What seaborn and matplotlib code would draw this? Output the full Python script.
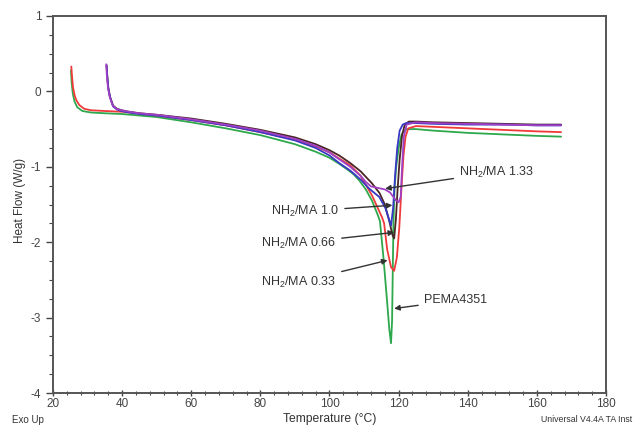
import matplotlib
matplotlib.use("Agg")
import matplotlib.pyplot as plt
import numpy as np
import pandas as pd
import seaborn as sns

# DSC traces (temperature in C, heat flow in W/g)
t_pema = [25.2, 25.4, 25.7, 26.2, 27.0, 28.5, 31, 35, 40, 50, 60, 70, 80, 90, 96, 100,
          102.8, 105, 107, 108.6, 110.5, 112.3, 113.8, 114.6, 115.6, 116.6, 117.3, 117.8,
          118.1, 118.3, 118.5, 118.8, 119.3, 120.0, 120.8, 121.6, 122.5, 125, 130, 140,
          150, 160, 167]
hf_pema = [0.28, 0.12, -0.02, -0.13, -0.21, -0.26, -0.28, -0.29, -0.30, -0.34, -0.41,
           -0.49, -0.58, -0.70, -0.80, -0.88, -0.96, -1.03, -1.10, -1.18, -1.30, -1.45,
           -1.62, -1.72, -2.2, -2.75, -3.15, -3.34, -3.05, -2.4, -1.75, -1.3, -1.0, -0.75,
           -0.58, -0.52, -0.50, -0.50, -0.52, -0.55, -0.57, -0.59, -0.60]

t_033 = [25.3, 25.5, 25.8, 26.3, 26.8, 27.6, 29, 31, 35, 40, 50, 60, 70, 80, 90, 96, 100,
         102.8, 106, 109, 112.3, 114, 115.2, 115.8, 116.7, 117.8, 118.7, 119.5, 120.2,
         120.8, 121.4, 122.0, 122.8, 125, 130, 140, 150, 160, 167]
hf_033 = [0.33, 0.2, 0.05, -0.06, -0.12, -0.18, -0.23, -0.25, -0.26, -0.27, -0.32, -0.38,
          -0.45, -0.54, -0.64, -0.73, -0.81, -0.89, -0.98, -1.12, -1.38, -1.55, -1.67,
          -1.75, -2.1, -2.33, -2.38, -2.2, -1.8, -1.3, -0.85, -0.6, -0.49, -0.46, -0.47,
          -0.49, -0.51, -0.53, -0.54]

t_066 = [35.5, 35.7, 36.0, 36.5, 37.4, 38.5, 39.8, 42, 45, 50, 60, 70, 80, 90, 96, 100,
         102.8, 106, 109, 112.3, 114.5, 116, 117.3, 118.2, 118.7, 119.2, 119.7, 120.3,
         121, 121.8, 123, 125, 130, 140, 150, 160, 167]
hf_066 = [0.35, 0.2, 0.05, -0.07, -0.19, -0.23, -0.25, -0.27, -0.29, -0.31, -0.36, -0.43,
          -0.51, -0.61, -0.70, -0.78, -0.85, -0.95, -1.06, -1.22, -1.35, -1.5, -1.72, -1.9,
          -1.95, -1.7, -1.3, -0.9, -0.58, -0.44, -0.40, -0.40, -0.41, -0.42, -0.43, -0.44,
          -0.44]

t_100 = [35.5, 35.7, 36.0, 36.5, 37.4, 38.5, 39.8, 42, 45, 50, 60, 70, 80, 90, 96, 100,
         102.8, 106, 109, 111.5, 114.4, 116.2, 117.8, 118.4, 119.0, 119.6, 120.3, 121.2,
         122.2, 125, 130, 140, 150, 160, 167]
hf_100 = [0.34, 0.2, 0.04, -0.08, -0.2, -0.24, -0.26, -0.28, -0.30, -0.32, -0.38, -0.45,
          -0.54, -0.65, -0.75, -0.85, -0.95, -1.05, -1.17, -1.29, -1.4, -1.55, -1.78, -1.55,
          -1.1, -0.75, -0.52, -0.44, -0.42, -0.42, -0.43, -0.44, -0.44, -0.45, -0.45]

t_133 = [35.4, 35.6, 35.9, 36.4, 37.3, 38.4, 39.7, 42, 45, 50, 60, 70, 80, 90, 96, 100,
         102.8, 106, 109, 110.5, 112, 114, 116, 117.5, 118.5, 119.3, 120.0, 120.6, 121.0,
         121.5, 122.3, 125, 130, 140, 150, 160, 167]
hf_133 = [0.36, 0.2, 0.05, -0.07, -0.19, -0.23, -0.25, -0.27, -0.29, -0.31, -0.37, -0.44,
          -0.52, -0.63, -0.72, -0.81, -0.9, -1.0, -1.12, -1.2, -1.26, -1.28, -1.3, -1.34,
          -1.4, -1.45, -1.47, -1.4, -1.0, -0.6, -0.44, -0.41, -0.42, -0.43, -0.44, -0.45,
          -0.45]

series = ["PEMA4351", "0.33", "0.66", "1.0", "1.33"]
colors = ["#2ea84c", "#f03a3a", "#4a2626", "#3838c4", "#a040c4"]

# annotation label, text position, arrow head (data coords)
labels = ["NH$_2$/MA 1.33", "NH$_2$/MA 1.0", "NH$_2$/MA 0.66", "NH$_2$/MA 0.33", "PEMA4351"]
label_xy = [(137.6, -1.07), (102.7, -1.59), (101.8, -2.01), (101.8, -2.53), (127.4, -2.77)]
arrow_xy = [(116.1, -1.29), (118.2, -1.51), (118.7, -1.87), (116.8, -2.24), (118.7, -2.88)]
label_side = ["left", "right", "right", "right", "left"]

df = pd.concat([
    pd.DataFrame({"T": t, "HF": hf, "sample": name})
    for t, hf, name in zip([t_pema, t_033, t_066, t_100, t_133],
                           [hf_pema, hf_033, hf_066, hf_100, hf_133], series)
], ignore_index=True)

sns.set_theme(style="ticks")
plt.rcParams["font.family"] = ["Liberation Sans", "DejaVu Sans"]
plt.rcParams["mathtext.default"] = "regular"
plt.rcParams["axes.unicode_minus"] = False

fig = plt.figure(figsize=(6.33, 4.26), dpi=100)
ax = fig.add_axes([53 / 633, 1 - 393 / 426, 553 / 633, 377 / 426])

sns.lineplot(data=df, x="T", y="HF", hue="sample", palette=dict(zip(series, colors)),
             hue_order=series, estimator=None, sort=False, lw=1.3, legend=False, ax=ax)

ax.set_xlim(20, 180)
ax.set_ylim(-4, 1)
ax.set_xticks(np.arange(20, 181, 20))
ax.set_xticks(np.arange(20, 181, 4), minor=True)
ax.set_yticks(np.arange(-4, 2, 1))
ax.set_yticks(np.arange(-4, 1.01, 0.25), minor=True)
ax.tick_params(axis="both", which="major", labelsize=8.5, colors="#444444", length=5, width=1)
ax.tick_params(axis="both", which="minor", length=3, width=0.8, colors="#444444")
ax.tick_params(axis="x", which="both", direction="inout", pad=1)
for s in ax.spines.values():
    s.set_color("#555555")
    s.set_linewidth(1.4)
ax.set_xlabel("")
ax.set_ylabel("")

for text, txy, axy, side in zip(labels, label_xy, arrow_xy, label_side):
    ax.annotate(text, xy=axy, xytext=txy, ha=side, va="center", fontsize=9, color="#333333",
                arrowprops=dict(arrowstyle="-|>", color="#333333", lw=1.0,
                                mutation_scale=8, shrinkA=2, shrinkB=0))

fig.text(20 / 633, 1 - 200 / 426, "Heat Flow (W/g)", rotation=90, ha="center", va="center",
         fontsize=8.5, color="#333333")
fig.text(330 / 633, 1 - 419 / 426, "Temperature (°C)", ha="center", va="center",
         fontsize=8.7, color="#333333")
fig.text(12 / 633, 1 - 420 / 426, "Exo Up", ha="left", va="center", fontsize=7, color="#333333")
fig.text(541 / 633, 1 - 420 / 426, "Universal V4.4A TA Inst", ha="left", va="center",
         fontsize=6.3, color="#333333")

fig.savefig("out.png", dpi=100)
